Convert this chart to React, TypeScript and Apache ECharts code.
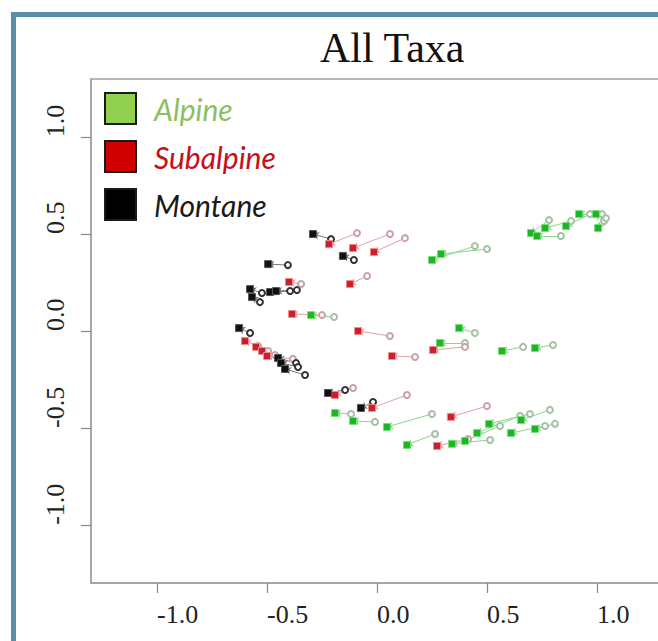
import React, { useEffect, useRef } from "react";
import * as echarts from "echarts";

// ---- data (x = axis 1, y = axis 2) ----
const groupNames = ["Alpine", "Subalpine", "Montane"];

// filled square = one position, open circle = the other position of the same taxon
const alpineSquareX = [-0.3, 0.25, 0.291, 0.7, 0.727, 0.764, 0.859, 0.918, 0.995, 1.005, 0.373, 0.286, 0.568, 0.718, -0.191, -0.109, 0.045, 0.136, 0.341, 0.4, 0.455, 0.509, 0.655, 0.609, 0.718];
const alpineSquareY = [0.082, 0.366, 0.397, 0.505, 0.49, 0.531, 0.541, 0.603, 0.603, 0.531, 0.015, -0.062, -0.103, -0.088, -0.423, -0.464, -0.495, -0.588, -0.582, -0.567, -0.526, -0.479, -0.459, -0.526, -0.505];
const alpineCircleX = [-0.195, 0.445, 0.5, 0.782, 0.836, 0.882, 0.968, 1.023, 1.032, 1.041, 0.445, 0.4, 0.664, 0.8, -0.118, -0.009, 0.25, 0.264, 0.514, 0.559, 0.65, 0.695, 0.786, 0.764, 0.809];
const alpineCircleY = [0.072, 0.438, 0.423, 0.572, 0.49, 0.567, 0.603, 0.603, 0.567, 0.582, -0.01, -0.062, -0.082, -0.072, -0.428, -0.469, -0.428, -0.531, -0.562, -0.49, -0.438, -0.428, -0.407, -0.49, -0.479];

const subalpineSquareX = [-0.218, -0.109, -0.014, -0.4, -0.123, -0.386, -0.6, -0.55, -0.523, -0.5, -0.086, 0.068, -0.191, -0.023, 0.255, 0.336, 0.273];
const subalpineSquareY = [0.448, 0.428, 0.407, 0.253, 0.242, 0.088, -0.052, -0.082, -0.103, -0.129, 0.0, -0.129, -0.33, -0.397, -0.098, -0.443, -0.593];
const subalpineCircleX = [-0.091, 0.059, 0.127, -0.345, -0.045, -0.25, -0.541, -0.495, -0.464, -0.382, 0.059, 0.173, -0.109, 0.136, 0.4, 0.5, 0.414];
const subalpineCircleY = [0.505, 0.5, 0.479, 0.242, 0.284, 0.082, -0.077, -0.103, -0.124, -0.144, -0.026, -0.134, -0.294, -0.33, -0.082, -0.387, -0.557];

const montaneSquareX = [-0.291, -0.155, -0.495, -0.577, -0.568, -0.486, -0.459, -0.627, -0.45, -0.436, -0.418, -0.223, -0.073];
const montaneSquareY = [0.5, 0.387, 0.345, 0.216, 0.175, 0.201, 0.206, 0.015, -0.139, -0.165, -0.196, -0.32, -0.397];
const montaneCircleX = [-0.209, -0.105, -0.405, -0.523, -0.532, -0.395, -0.364, -0.577, -0.368, -0.359, -0.327, -0.145, -0.018];
const montaneCircleY = [0.474, 0.366, 0.34, 0.196, 0.149, 0.206, 0.211, -0.01, -0.165, -0.186, -0.227, -0.304, -0.366];

const xTicks = [-1.0, -0.5, 0.0, 0.5, 1.0];
const yTicks = [-1.0, -0.5, 0.0, 0.5, 1.0];

const titleText = "All Taxa";

type Style = {
  square: string;
  squareBorder: string;
  line: string;
  circle: string;
  legendFill: string;
  legendText: string;
};

const styles: Record<string, Style> = {
  Alpine: { square: "#1fb423", squareBorder: "#74e07a", line: "#8ad48e", circle: "#a3c2a3", legendFill: "#92d050", legendText: "#8cbf60" },
  Subalpine: { square: "#c8202c", squareBorder: "#f08a90", line: "#e0a0a4", circle: "#c9a2a4", legendFill: "#d00000", legendText: "#c4101c" },
  Montane: { square: "#111111", squareBorder: "#555555", line: "#777777", circle: "#333333", legendFill: "#000000", legendText: "#1a1a1a" },
};

function makeSeries(name: string, sx: number[], sy: number[], cx: number[], cy: number[]) {
  const st = styles[name];
  return [
    {
      type: "lines",
      name: name + " shift",
      coordinateSystem: "cartesian2d",
      silent: true,
      z: 2,
      symbol: ["none", "arrow"],
      symbolSize: 6,
      lineStyle: { color: st.line, width: 1, opacity: 1, curveness: 0 },
      data: sx.map((_, i) => ({ coords: [[cx[i], cy[i]], [sx[i], sy[i]]] })),
    },
    {
      type: "scatter",
      name: name + " other",
      silent: true,
      z: 3,
      symbol: "emptyCircle",
      symbolSize: 6,
      itemStyle: { color: st.circle, borderWidth: 1, opacity: 1 },
      data: cx.map((v, i) => [v, cy[i]]),
    },
    {
      type: "scatter",
      name: name,
      silent: true,
      z: 4,
      symbol: "rect",
      symbolSize: 7,
      itemStyle: { color: st.square, borderColor: st.squareBorder, borderWidth: 1, opacity: 1 },
      data: sx.map((v, i) => [v, sy[i]]),
    },
  ];
}

export default function App() {
  const ref = useRef<HTMLDivElement>(null);

  useEffect(() => {
    if (!ref.current) return;
    const chart = echarts.init(ref.current, null, { renderer: "svg" });
    const serifFont = "'Liberation Serif', 'Times New Roman', serif";
    const option: any = {
      animation: false,
      backgroundColor: "#ffffff",
      title: {
        text: titleText,
        left: 320,
        top: 27,
        padding: 0,
        textStyle: { fontFamily: serifFont, fontSize: 42, fontWeight: "normal", color: "#111111" },
      },
      legend: {
        orient: "vertical",
        left: 104,
        top: 92,
        padding: 0,
        itemWidth: 31,
        itemHeight: 31,
        itemGap: 15,
        selectedMode: false,
        textStyle: {
          fontFamily: "Lato, 'Open Sans', sans-serif",
          fontStyle: "italic",
          fontSize: 30,
          padding: [0, 0, 0, 13],
        },
        data: groupNames.map((n) => ({
          name: n,
          icon: "rect",
          itemStyle: { color: styles[n].legendFill, borderColor: "#1a1a1a", borderWidth: 2, opacity: 1 },
          textStyle: { color: styles[n].legendText },
        })),
      },
      graphic: [
        {
          type: "rect",
          silent: true,
          z: -1,
          shape: { x: 13.5, y: 14.5, width: 900, height: 900 },
          style: { fill: "none", stroke: "#5a8ea8", lineWidth: 5 },
        },
      ],
      grid: {
        left: 91,
        top: 79,
        width: 572,
        height: 504,
        show: true,
        borderColor: "#a0a0a0",
        borderWidth: 1.5,
        backgroundColor: "transparent",
      },
      xAxis: {
        type: "value",
        min: -1.3,
        max: 1.3,
        splitLine: { show: false },
        axisLine: { show: true, onZero: false, lineStyle: { color: "#a0a0a0", width: 1.5 } },
        axisTick: { show: true, length: 10, lineStyle: { color: "#8a8a8a", width: 1.2 }, customValues: xTicks },
        axisLabel: {
          customValues: xTicks,
          formatter: (v: number) => v.toFixed(1),
          fontFamily: serifFont,
          fontSize: 26,
          color: "#222222",
          align: "left",
          verticalAlign: "middle",
          margin: 31,
        },
      },
      yAxis: {
        type: "value",
        min: -1.3,
        max: 1.3,
        splitLine: { show: false },
        axisLine: { show: true, onZero: false, lineStyle: { color: "#a0a0a0", width: 1.5 } },
        axisTick: { show: true, length: 10, lineStyle: { color: "#8a8a8a", width: 1.2 }, customValues: yTicks },
        axisLabel: {
          customValues: yTicks,
          formatter: (v: number) => v.toFixed(1),
          fontFamily: serifFont,
          fontSize: 26,
          color: "#222222",
          rotate: 90,
          align: "left",
          verticalAlign: "middle",
          margin: 36,
        },
      },
      series: [
        ...makeSeries("Alpine", alpineSquareX, alpineSquareY, alpineCircleX, alpineCircleY),
        ...makeSeries("Subalpine", subalpineSquareX, subalpineSquareY, subalpineCircleX, subalpineCircleY),
        ...makeSeries("Montane", montaneSquareX, montaneSquareY, montaneCircleX, montaneCircleY),
      ],
    };
    chart.setOption(option);
    return () => chart.dispose();
  }, []);

  return (
    <div
      style={{
        position: "fixed",
        left: 0,
        top: 0,
        width: 658,
        height: 641,
        overflow: "hidden",
        background: "#ffffff",
      }}
    >
      <div ref={ref} style={{ width: 700, height: 641 }} />
    </div>
  );
}
